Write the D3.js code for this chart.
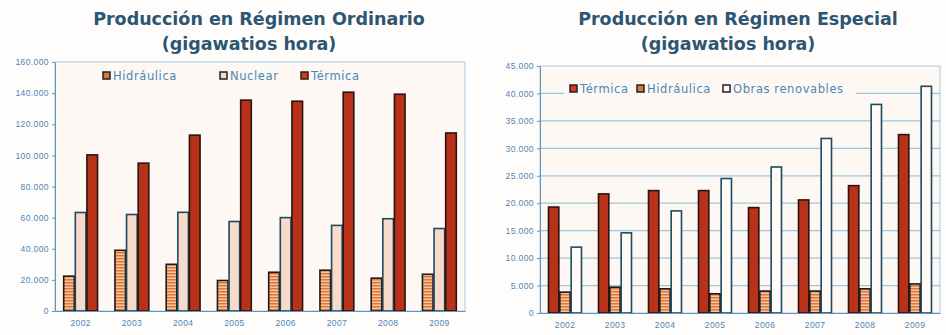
<!DOCTYPE html>
<html>
<head>
<meta charset="utf-8">
<style>
  body { margin: 0; background: #fffdfb; }
  svg { display: block; font-family: "DejaVu Sans", Verdana, sans-serif; }
  .title { fill: #2c5672; font-size: 17.5px; font-weight: bold; text-anchor: middle; }
  .axis text { fill: #4a86b8; font-size: 8.5px; letter-spacing: 0.4px; }
  .axis path, .axis line { stroke: #5b95c0; }
  .legend text { fill: #4a86b8; font-size: 11.5px; letter-spacing: 0.6px; }
</style>
<script src="https://d3js.org/d3.v7.min.js"></script>
</head>
<body>
<script>
var years = ["2002", "2003", "2004", "2005", "2006", "2007", "2008", "2009"];

// Régimen Ordinario (GWh)
var ordHidraulica = [22400, 39000, 30000, 19600, 24900, 26200, 21100, 23600];
var ordNuclear    = [63300, 62000, 63400, 57500, 60000, 55000, 59300, 53000];
var ordTermica    = [100300, 95000, 113000, 135500, 134800, 140600, 139300, 114400];
var ordTicks      = [0, 20000, 40000, 60000, 80000, 100000, 120000, 140000, 160000];

// Régimen Especial (GWh)
var espTermica     = [19300, 21700, 22300, 22300, 19200, 20600, 23200, 32500];
var espHidraulica  = [3800, 4700, 4400, 3500, 4000, 4000, 4400, 5300];
var espRenovables  = [12000, 14600, 18600, 24500, 26600, 31800, 38000, 41300];
var espTicks       = [0, 5000, 10000, 15000, 20000, 25000, 30000, 35000, 40000, 45000];

var es = d3.formatLocale({ decimal: ",", thousands: ".", grouping: [3], currency: ["", "€"] });
var fmt = es.format(",");

var svg = d3.select("body").append("svg")
    .attr("width", 946)
    .attr("height", 335);

var defs = svg.append("defs");
var pat = defs.append("pattern")
    .attr("id", "hidro")
    .attr("patternUnits", "userSpaceOnUse")
    .attr("width", 4)
    .attr("height", 3);
pat.append("rect").attr("width", 4).attr("height", 3).attr("fill", "#f4c89e");
pat.append("rect").attr("width", 4).attr("height", 1.5).attr("fill", "#e0733c");

var styles = {
  termica:   { fill: "#b8321a", stroke: "#2a1410", key: "#d83a1e" },
  hidro:     { fill: "url(#hidro)", stroke: "#1e1a18", key: "#e0733c" },
  nuclear:   { fill: "#f8dacb", stroke: "#1d4a5f", key: "#f8dacb" },
  renovable: { fill: "#fffaf6", stroke: "#1d4a5f", key: "#fffaf6" }
};

function drawChart(cfg) {
  var g = svg.append("g");

  // title
  g.append("text").attr("class", "title")
    .attr("x", cfg.titleX).attr("y", 25).text(cfg.title[0]);
  g.append("text").attr("class", "title")
    .attr("x", cfg.titleX - 10).attr("y", 50).text(cfg.title[1]);

  var x = d3.scaleBand()
      .domain(years)
      .range([cfg.left, cfg.right])
      .paddingInner(0.32)
      .paddingOuter(0.16);
  var xs = d3.scaleBand()
      .domain(cfg.series.map(function(s) { return s.name; }))
      .range([0, x.bandwidth()]);
  var y = d3.scaleLinear()
      .domain([0, cfg.max])
      .range([cfg.bottom, cfg.top]);

  // plot background
  g.append("rect")
    .attr("x", cfg.left).attr("y", cfg.top)
    .attr("width", cfg.right - cfg.left).attr("height", cfg.bottom - cfg.top)
    .attr("fill", "#fdf8f3")
    .attr("stroke", "#a9cbe0");

  // gridlines
  if (cfg.grid) {
    g.append("g").selectAll("line")
      .data(cfg.ticks.slice(1, -1))
      .enter().append("line")
      .attr("x1", cfg.left).attr("x2", cfg.right)
      .attr("y1", function(d) { return y(d); })
      .attr("y2", function(d) { return y(d); })
      .attr("stroke", "#9fc6dc")
      .attr("stroke-width", 1.2);
  }

  // bars
  cfg.series.forEach(function(s) {
    g.append("g").selectAll("rect")
      .data(s.values)
      .enter().append("rect")
      .attr("x", function(d, i) { return x(years[i]) + xs(s.name) + 0.5; })
      .attr("y", function(d) { return y(d); })
      .attr("width", xs.bandwidth() - 1)
      .attr("height", function(d) { return cfg.bottom - y(d); })
      .attr("fill", styles[s.style].fill)
      .attr("stroke", styles[s.style].stroke)
      .attr("stroke-width", 1.6);
  });

  // legend
  var lg = g.append("g").attr("class", "legend");
  if (cfg.legendBox) {
    lg.append("rect")
      .attr("x", cfg.legendBox[0]).attr("y", cfg.legendY - 8)
      .attr("width", cfg.legendBox[1] - cfg.legendBox[0]).attr("height", 16)
      .attr("fill", "#fdf8f3");
  }
  cfg.series.forEach(function(s, i) {
    var lx = cfg.legendX[i];
    lg.append("rect")
      .attr("x", lx).attr("y", cfg.legendY - 4)
      .attr("width", 7).attr("height", 7)
      .attr("fill", styles[s.style].key)
      .attr("stroke", "#222")
      .attr("stroke-width", 1.5);
    lg.append("text")
      .attr("x", lx + 10).attr("y", cfg.legendY + 4)
      .text(s.name);
  });

  // axes
  g.append("g")
    .attr("class", "axis")
    .attr("transform", "translate(" + cfg.left + ",0)")
    .call(d3.axisLeft(y).tickValues(cfg.ticks).tickFormat(fmt).tickSize(3).tickSizeOuter(0));

  g.append("g")
    .attr("class", "axis")
    .attr("transform", "translate(0," + cfg.bottom + ")")
    .call(d3.axisBottom(x).tickSize(0).tickPadding(9).tickSizeOuter(0));
}

drawChart({
  title: ["Producción en Régimen Ordinario", "(gigawatios hora)"],
  titleX: 259,
  left: 55, right: 465, top: 62, bottom: 311,
  max: 160000, ticks: ordTicks, grid: false,
  legendY: 76, legendX: [103, 220, 301],
  series: [
    { name: "Hidráulica", values: ordHidraulica, style: "hidro" },
    { name: "Nuclear", values: ordNuclear, style: "nuclear" },
    { name: "Térmica", values: ordTermica, style: "termica" }
  ]
});

drawChart({
  title: ["Producción en Régimen Especial", "(gigawatios hora)"],
  titleX: 738,
  left: 540, right: 940, top: 66, bottom: 313,
  max: 45000, ticks: espTicks, grid: true,
  legendY: 89, legendX: [570, 637, 723], legendBox: [564, 856],
  series: [
    { name: "Térmica", values: espTermica, style: "termica" },
    { name: "Hidráulica", values: espHidraulica, style: "hidro" },
    { name: "Obras renovables", values: espRenovables, style: "renovable" }
  ]
});
</script>
</body>
</html>
